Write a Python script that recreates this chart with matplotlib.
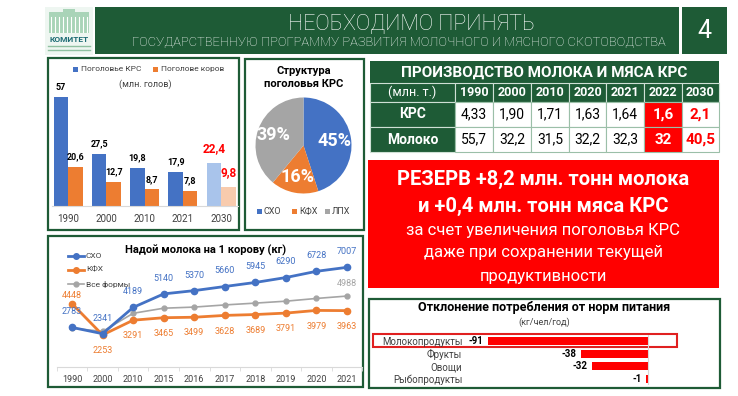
import matplotlib
matplotlib.use('Agg')
import matplotlib.pyplot as plt
from matplotlib.patches import Rectangle


W, H = 738, 396

GREEN = '#1e5b36'
RED = '#ff0000'
BLUE = '#4472c4'
ORANGE = '#ed7d31'
GRAY = '#a5a5a5'

# поголовье (млн. голов)
herd_years = ['1990', '2000', '2010', '2021', '2030']
herd_krs = [57, 27.5, 19.8, 17.9, 22.4]
herd_cows = [20.6, 12.7, 8.7, 7.8, 9.8]

# структура поголовья КРС
pie_labels = ['СХО', 'КФХ', 'ЛПХ']
pie_shares = [45, 16, 39]

# производство молока и мяса КРС (млн. т.)
tbl_years = ['1990', '2000', '2010', '2020', '2021', '2022', '2030']
tbl_meat = ['4,33', '1,90', '1,71', '1,63', '1,64', '1,6', '2,1']
tbl_milk = ['55,7', '32,2', '31,5', '32,2', '32,3', '32', '40,5']

# надой молока на 1 корову (кг)
yield_years = ['1990', '2000', '2010', '2015', '2016',
               '2017', '2018', '2019', '2020', '2021']
yield_sho = [2783, 2341, 4189, 5140, 5370, 5660, 5945, 6290, 6728, 7007]
yield_kfh = [4448, 2253, 3291, 3465, 3499, 3628, 3689, 3791, 3979, 3963]
yield_all = [2731, 2502, 3776, 4134, 4213, 4364, 4492, 4628, 4820, 4988]

# отклонение потребления от норм питания (кг/чел/год)
norm_cats = ['Молокопродукты', 'Фрукты', 'Овощи', 'Рыбопродукты']
norm_dev = [-91, -38, -32, -1]


def px_axes(fig, x0, y0, x1, y1):
    return fig.add_axes([x0 / W, 1 - y1 / H, (x1 - x0) / W, (y1 - y0) / H])


def box(ax, x0, y0, x1, y1, **kw):
    ax.add_patch(Rectangle((x0, y0), x1 - x0, y1 - y0, **kw))


def draw_header(bg):
    # logo
    box(bg, 45, 7, 93, 55, fc='#eef6f1', ec='none')
    box(bg, 49, 12, 89, 33, fc='#a9d4b8', ec='none')
    box(bg, 63, 9, 75, 14, fc='#a9d4b8', ec='none')
    for x in range(51, 89, 4):
        bg.plot([x, x], [17, 32], color='white', lw=0.8)
    bg.text(69, 40, 'КОМИТЕТ', fontsize=6, weight='bold', color='#1d6b74',
            ha='center', va='center')
    bg.plot([48, 90], [46, 46], color='#8fc0a0', lw=1)
    bg.plot([48, 90], [50, 50], color='#8fc0a0', lw=1)

    box(bg, 95, 7, 679, 54, fc=GREEN, ec='none')
    bg.text(411, 25, 'НЕОБХОДИМО ПРИНЯТЬ', fontsize=15.5, weight='light',
            color='white', ha='center', va='center')
    bg.text(399, 42, 'ГОСУДАРСТВЕННУЮ ПРОГРАММУ РАЗВИТИЯ МОЛОЧНОГО И МЯСНОГО '
            'СКОТОВОДСТВА', fontsize=9.3, weight='light', color='white',
            ha='center', va='center')
    box(bg, 682, 7, 727, 54, fc=GREEN, ec='none')
    bg.text(704.5, 31, '4', fontsize=18, color='white', ha='center',
            va='center')


def draw_table(bg):
    col_edges = [370, 455, 493, 531, 569, 606, 644, 682, 719]
    row_edges = [61, 83, 102, 127, 152]

    box(bg, 370, 61, 719, 83, fc=GREEN, ec='none')
    bg.text(544.5, 72.5, 'ПРОИЗВОДСТВО МОЛОКА И МЯСА КРС', fontsize=11,
            weight='bold', color='white', ha='center', va='center')

    # header row
    y0, y1 = row_edges[1], row_edges[2]
    for i in range(len(col_edges) - 1):
        box(bg, col_edges[i], y0, col_edges[i + 1], y1, fc=GREEN,
            ec='#cfe0d5', lw=0.8)
    bg.text((col_edges[0] + col_edges[1]) / 2, (y0 + y1) / 2, '(млн. т.)',
            fontsize=9, color='white', ha='center', va='center')
    for i, yr in enumerate(tbl_years):
        cx = (col_edges[i + 1] + col_edges[i + 2]) / 2
        bg.text(cx, (y0 + y1) / 2 + 0.5, yr, fontsize=9, weight='bold',
                color='white', ha='center', va='center')

    rows = [('КРС', tbl_meat), ('Молоко', tbl_milk)]
    for r, (name, vals) in enumerate(rows):
        y0, y1 = row_edges[r + 2], row_edges[r + 3]
        cy = (y0 + y1) / 2
        box(bg, col_edges[0], y0, col_edges[1], y1, fc=GREEN,
            ec='#cfe0d5', lw=0.8)
        bg.text((col_edges[0] + col_edges[1]) / 2, cy, name, fontsize=10,
                weight='bold', color='white', ha='center', va='center')
        for i, v in enumerate(vals):
            x0, x1 = col_edges[i + 1], col_edges[i + 2]
            cx = (x0 + x1) / 2
            if tbl_years[i] == '2022':
                box(bg, x0, y0, x1, y1, fc=RED, ec='#9bbfa8', lw=0.8)
                bg.text(cx, cy, v, fontsize=11, weight='bold', color='white',
                        ha='center', va='center')
            elif tbl_years[i] == '2030':
                box(bg, x0, y0, x1, y1, fc='white', ec='#9bbfa8', lw=0.8)
                bg.text(cx, cy, v, fontsize=11, weight='bold', color=RED,
                        ha='center', va='center')
            else:
                box(bg, x0, y0, x1, y1, fc='white', ec='#9bbfa8', lw=0.8)
                bg.text(cx, cy, v, fontsize=10, color='black',
                        ha='center', va='center')


def draw_reserve(bg):
    box(bg, 368, 160, 719, 288, fc=RED, ec='none')
    bg.text(543, 179, 'РЕЗЕРВ +8,2 млн. тонн молока', fontsize=14.5,
            weight='bold', color='white', ha='center', va='center')
    bg.text(543, 206, 'и +0,4 млн. тонн мяса КРС', fontsize=14.5,
            weight='bold', color='white', ha='center', va='center')
    bg.text(543, 231, 'за счет увеличения поголовья КРС', fontsize=12,
            color='white', ha='center', va='center')
    bg.text(543, 253, 'даже при сохранении текущей', fontsize=12,
            color='white', ha='center', va='center')
    bg.text(543, 276, 'продуктивности', fontsize=12,
            color='white', ha='center', va='center')


def draw_herd(fig, bg):
    box(bg, 48, 58, 239, 230, fc='none', ec=GREEN, lw=1.6)
    box(bg, 73, 66.5, 78, 71.5, fc=BLUE, ec='none')
    bg.text(81, 69, 'Поголовье КРС', fontsize=6, color='#404040',
            va='center')
    box(bg, 153, 66.5, 158, 71.5, fc=ORANGE, ec='none')
    bg.text(161, 69, 'Поголове коров', fontsize=6, color='#404040',
            va='center')
    bg.text(145, 84, '(млн. голов)', fontsize=6.5, color='#404040',
            ha='center', va='center')

    ax = px_axes(fig, 52, 80, 238, 206)
    ax.patch.set_alpha(0)
    x = list(range(len(herd_years)))
    w = 0.38
    krs_colors = [BLUE] * (len(x) - 1) + ['#a9c4eb']
    cow_colors = [ORANGE] * (len(x) - 1) + ['#f8cbad']
    ax.bar([i - w / 2 for i in x], herd_krs, w, color=krs_colors)
    ax.bar([i + w / 2 for i in x], herd_cows, w, color=cow_colors)
    for i in x:
        last = i == len(x) - 1
        for dx, v in ((-w / 2, herd_krs[i]), (w / 2, herd_cows[i])):
            txt = f'{v:g}'.replace('.', ',')
            ax.annotate(txt, (i + dx, v), xytext=(0, 6 if last else 4),
                        textcoords='offset points', ha='center',
                        va='bottom', fontsize=8.5 if last else 6.5,
                        weight='bold', color=RED if last else 'black')
    ax.set_xlim(-0.42, 4.44)
    ax.set_ylim(0, 66)
    ax.set_xticks(x)
    ax.set_xticklabels(herd_years)
    ax.tick_params(axis='x', length=0, pad=6, labelsize=7,
                   labelcolor='#404040')
    ax.set_yticks([])
    for s in ('top', 'left', 'right'):
        ax.spines[s].set_visible(False)
    ax.spines['bottom'].set_color('#d9d9d9')
    ax.spines['bottom'].set_linewidth(0.8)


def draw_pie(fig, bg):
    box(bg, 245, 59, 364, 230, fc='none', ec=GREEN, lw=1.6)
    bg.text(304, 77.5, 'Структура\nпоголовья КРС', fontsize=8, weight='bold',
            color='black', ha='center', va='center', linespacing=1.3)
    ax = px_axes(fig, 255.5, 97.5, 351.5, 193.5)
    _, _, autotexts = ax.pie(pie_shares, colors=[BLUE, ORANGE, GRAY],
                             startangle=90, counterclock=False,
                             autopct=lambda p: f'{p:.0f}%', pctdistance=0.66,
                             wedgeprops={'linewidth': 0})
    for t in autotexts:
        t.set_color('white')
        t.set_fontsize(13)
        t.set_weight('bold')
    ax.set_xlim(-1, 1)
    ax.set_ylim(-1, 1)
    ax.set_aspect('equal')
    lx = [257, 292, 325]
    for x0, lab, c in zip(lx, pie_labels, [BLUE, ORANGE, GRAY]):
        box(bg, x0, 208.5, x0 + 5, 213.5, fc=c, ec='none')
        bg.text(x0 + 7, 211, lab, fontsize=6.5, color='#404040',
                va='center')


def draw_yield(fig, bg):
    box(bg, 48, 236, 363, 387, fc='none', ec=GREEN, lw=1.6)
    bg.text(206, 250, 'Надой молока на 1 корову (кг)', fontsize=8,
            weight='bold', color='black', ha='center', va='center')
    legend = [('СХО', BLUE, 2, 4), ('КФХ', ORANGE, 2, 4),
              ('Все формы', GRAY, 1.2, 3.5)]
    for k, (lab, c, lw, ms) in enumerate(legend):
        y = 256 + 14 * k
        bg.plot([68, 84], [y, y], color=c, lw=lw)
        bg.plot([76], [y], 'o', color=c, ms=ms)
        bg.text(86, y, lab, fontsize=6, color='#404040', va='center')

    ax = px_axes(fig, 56.75, 239, 362.25, 367)
    ax.patch.set_alpha(0)
    x = list(range(len(yield_years)))
    ax.plot(x, yield_all, color=GRAY, lw=1.2, marker='o', ms=3.5)
    ax.plot(x, yield_kfh, color=ORANGE, lw=2, marker='o', ms=4.5)
    ax.plot(x, yield_sho, color=BLUE, lw=2, marker='o', ms=4.5)
    for i in x:
        ax.annotate(str(yield_sho[i]), (i, yield_sho[i]), xytext=(0, 8),
                    textcoords='offset points', ha='center', va='bottom',
                    fontsize=6.5, color=BLUE)
        dy = 3 if i == 0 else -8
        ax.annotate(str(yield_kfh[i]), (i, yield_kfh[i]), xytext=(0, dy),
                    textcoords='offset points', ha='center',
                    va='bottom' if dy > 0 else 'top', fontsize=6.5,
                    color=ORANGE)
    ax.annotate(str(yield_all[-1]), (x[-1], yield_all[-1]), xytext=(0, 6),
                textcoords='offset points', ha='center', va='bottom',
                fontsize=6.5, color=GRAY)
    ax.set_xlim(-0.5, len(x) - 0.5)
    ax.set_ylim(0, 9000)
    ax.set_xticks(x)
    ax.set_xticklabels(yield_years)
    ax.set_xticks([i - 0.5 for i in range(len(x) + 1)], minor=True)
    ax.tick_params(axis='x', which='major', length=0, pad=6, labelsize=6.5,
                   labelcolor='#404040')
    ax.tick_params(axis='x', which='minor', length=3, color='#d9d9d9')
    ax.set_yticks([])
    for s in ('top', 'left', 'right'):
        ax.spines[s].set_visible(False)
    ax.spines['bottom'].set_color('#d9d9d9')
    ax.spines['bottom'].set_linewidth(0.8)


def draw_norms(fig, bg):
    box(bg, 369, 299, 720, 388, fc='none', ec=GREEN, lw=1.6)
    bg.text(544, 308, 'Отклонение потребления от норм питания', fontsize=9,
            weight='bold', color='black', ha='center', va='center')
    bg.text(544, 322, '(кг/чел/год)', fontsize=6.5, color='#404040',
            ha='center', va='center')
    box(bg, 373, 334, 677, 347, fc='none', ec='#e02020', lw=1.5)

    ax = px_axes(fig, 472, 334.7, 710, 385.3)
    ax.patch.set_alpha(0)
    y = list(range(len(norm_cats)))
    ax.barh(y, norm_dev, height=0.63, color=RED)
    ax.axvline(0, color='#d9d9d9', lw=0.8)
    for i, v in zip(y, norm_dev):
        ax.annotate(str(v), (v, i), xytext=(-3, 0), textcoords='offset points',
                    ha='right', va='center', fontsize=7, weight='bold',
                    color='black')
    ax.set_xlim(-100, 35.2)
    ax.set_ylim(3.5, -0.5)
    ax.set_yticks(y)
    ax.set_yticklabels(norm_cats)
    ax.tick_params(axis='y', length=0, pad=7, labelsize=7,
                   labelcolor='#404040')
    ax.set_xticks([])
    for s in ax.spines.values():
        s.set_visible(False)


def main():
    plt.rcParams['font.family'] = ['Roboto', 'DejaVu Sans']
    fig = plt.figure(figsize=(W / 100, H / 100), dpi=100)
    fig.patch.set_facecolor('white')

    bg = fig.add_axes([0, 0, 1, 1])
    bg.set_xlim(0, W)
    bg.set_ylim(H, 0)
    bg.axis('off')

    draw_header(bg)
    draw_table(bg)
    draw_reserve(bg)
    draw_herd(fig, bg)
    draw_pie(fig, bg)
    draw_yield(fig, bg)
    draw_norms(fig, bg)

    fig.savefig('out.png', dpi=100)


if __name__ == '__main__':
    main()
